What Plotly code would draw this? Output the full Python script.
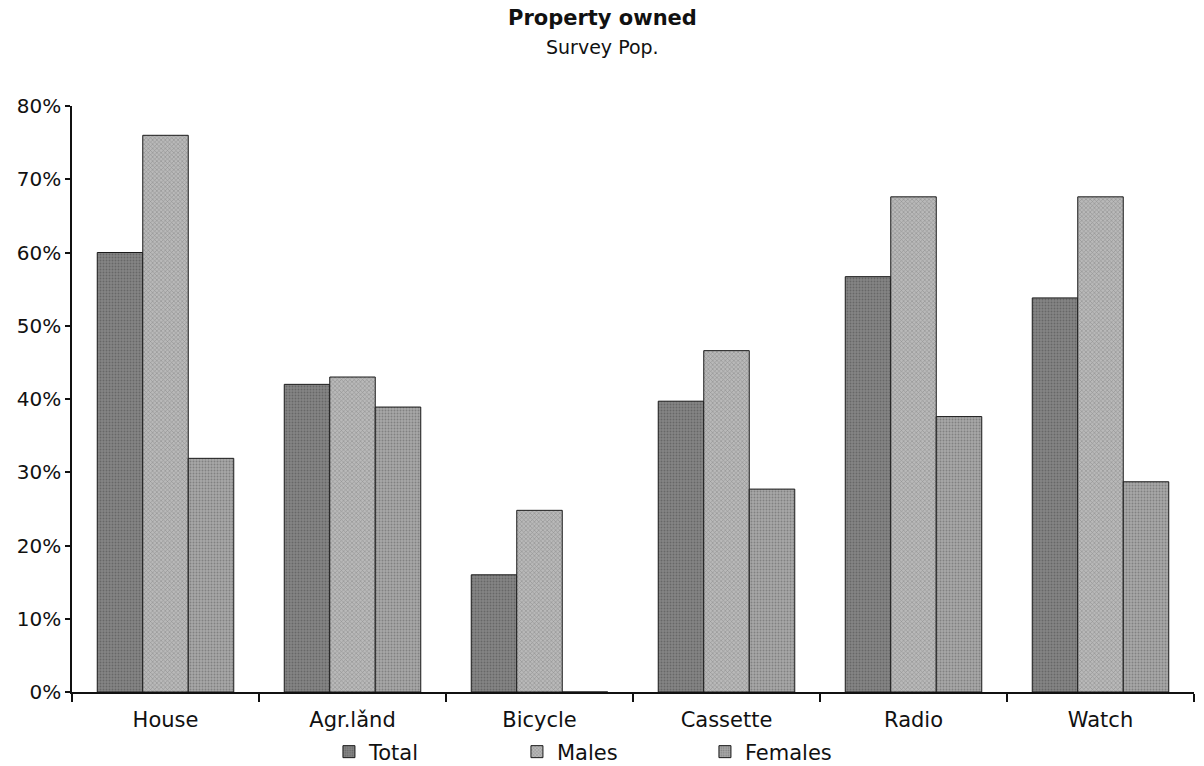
import plotly.graph_objects as go

# Share of survey population owning each item
categories = ["House", "Agr.lǎnd", "Bicycle", "Cassette", "Radio", "Watch"]
total = [60.0, 42.0, 16.0, 39.7, 56.7, 53.8]
males = [76.0, 43.0, 24.8, 46.6, 67.6, 67.6]
females = [31.9, 38.9, 0.0, 27.7, 37.6, 28.7]
y_ticks = [0, 10, 20, 30, 40, 50, 60, 70, 80]
y_tick_labels = [f"{v}%" for v in y_ticks]

FONT = "DejaVu Sans"
INK = "#111111"

series = [
    ("Total", total, "#858585", "#4a4a4a", "."),
    ("Males", males, "#b9b9b9", "#666666", "x"),
    ("Females", females, "#a8a8a8", "#5a5a5a", "."),
]

fig = go.Figure()
for name, vals, bg, fg, shape in series:
    fig.add_trace(go.Bar(
        x=categories,
        y=vals,
        name=name,
        marker=dict(
            color=bg,
            line=dict(color="#1a1a1a", width=1),
            pattern=dict(shape=shape, bgcolor=bg, fgcolor=fg, size=3, solidity=0.35),
        ),
    ))

# plot area spans x 72..1194 and y 106..692 in pixels
PW, PH = 1122, 586

fig.update_layout(
    width=1204,
    height=766,
    barmode="group",
    bargap=0.27,
    bargroupgap=0,
    plot_bgcolor="white",
    paper_bgcolor="white",
    margin=dict(l=72, r=10, t=106, b=74, autoexpand=False),
    font=dict(family=FONT, size=20, color=INK),
    showlegend=True,
    legend=dict(
        orientation="h",
        x=0.229, xanchor="left",
        y=-(752 - 692) / PH, yanchor="middle",
        entrywidth=143, entrywidthmode="pixels",
        font=dict(family=FONT, size=21, color=INK),
    ),
)

fig.add_annotation(text="<b>Property owned</b>", xref="paper", x=(602 - 72) / PW,
                   yref="paper", y=1 + (106 - 18) / PH, xanchor="center", yanchor="middle",
                   showarrow=False, font=dict(family=FONT, size=21, color=INK))
fig.add_annotation(text="Survey Pop.", xref="paper", x=(602 - 72) / PW,
                   yref="paper", y=1 + (106 - 47) / PH, xanchor="center", yanchor="middle",
                   showarrow=False, font=dict(family=FONT, size=19, color=INK))

fig.update_xaxes(
    showline=True, linecolor=INK, linewidth=1.5,
    ticks="outside", tickson="boundaries", ticklen=8, tickcolor=INK, tickwidth=1.5,
    showgrid=False, zeroline=False,
    ticklabelstandoff=8,
    tickfont=dict(family=FONT, size=21, color=INK),
)
fig.update_yaxes(
    range=[0, 80],
    tickvals=y_ticks, ticktext=y_tick_labels,
    showline=True, linecolor=INK, linewidth=1.5,
    ticks="outside", ticklen=5, tickcolor=INK, tickwidth=1.5,
    showgrid=False, zeroline=False,
    tickfont=dict(family=FONT, size=20, color=INK),
)

fig.write_html("out.html")
